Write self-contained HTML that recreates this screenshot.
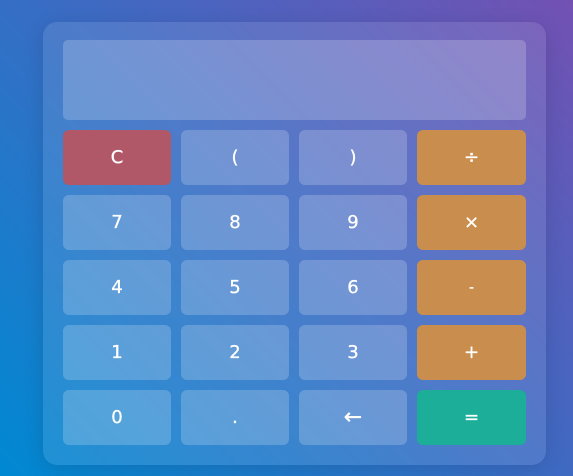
<!DOCTYPE html>
<html><head><style>
html,body{margin:0;width:573px;height:476px;overflow:hidden}
body{background:linear-gradient(45deg,#0089d2 0%,#3a6cc4 50%,#7351b3 100%);font-family:"DejaVu Sans","Liberation Sans",sans-serif;position:relative}
.calc{position:absolute;left:43px;top:22px;width:503px;height:443px;border-radius:14px;background:rgba(255,255,255,0.1);box-shadow:0 4px 20px rgba(0,0,0,0.12)}
.disp{position:absolute;left:20px;top:18px;width:463px;height:80px;border-radius:5px;background:rgba(255,255,255,0.2)}
.b{position:absolute;width:108px;height:55px;border-radius:6px;background:rgba(255,255,255,0.2);color:#fff;font-size:18px;display:flex;align-items:center;justify-content:center;-webkit-text-stroke:0.3px #fff}
.c{background:#b05868}.o{background:#c98e4e}.e{background:#1cae98}
</style></head><body>
<div class="calc"><div class="disp"></div>
<div class="b c" style="left:20px;top:108px">C</div>
<div class="b" style="left:138px;top:108px">(</div>
<div class="b" style="left:256px;top:108px">)</div>
<div class="b o" style="left:374px;top:108px;width:109px">÷</div>
<div class="b" style="left:20px;top:173px">7</div>
<div class="b" style="left:138px;top:173px">8</div>
<div class="b" style="left:256px;top:173px">9</div>
<div class="b o" style="left:374px;top:173px;width:109px">×</div>
<div class="b" style="left:20px;top:238px">4</div>
<div class="b" style="left:138px;top:238px">5</div>
<div class="b" style="left:256px;top:238px">6</div>
<div class="b o" style="left:374px;top:238px;width:109px;font-size:14px">-</div>
<div class="b" style="left:20px;top:303px">1</div>
<div class="b" style="left:138px;top:303px">2</div>
<div class="b" style="left:256px;top:303px">3</div>
<div class="b o" style="left:374px;top:303px;width:109px">+</div>
<div class="b" style="left:20px;top:368px">0</div>
<div class="b" style="left:138px;top:368px">.</div>
<div class="b" style="left:256px;top:368px;font-size:22px">←</div>
<div class="b e" style="left:374px;top:368px;width:109px">=</div>
</div>
</body></html>
